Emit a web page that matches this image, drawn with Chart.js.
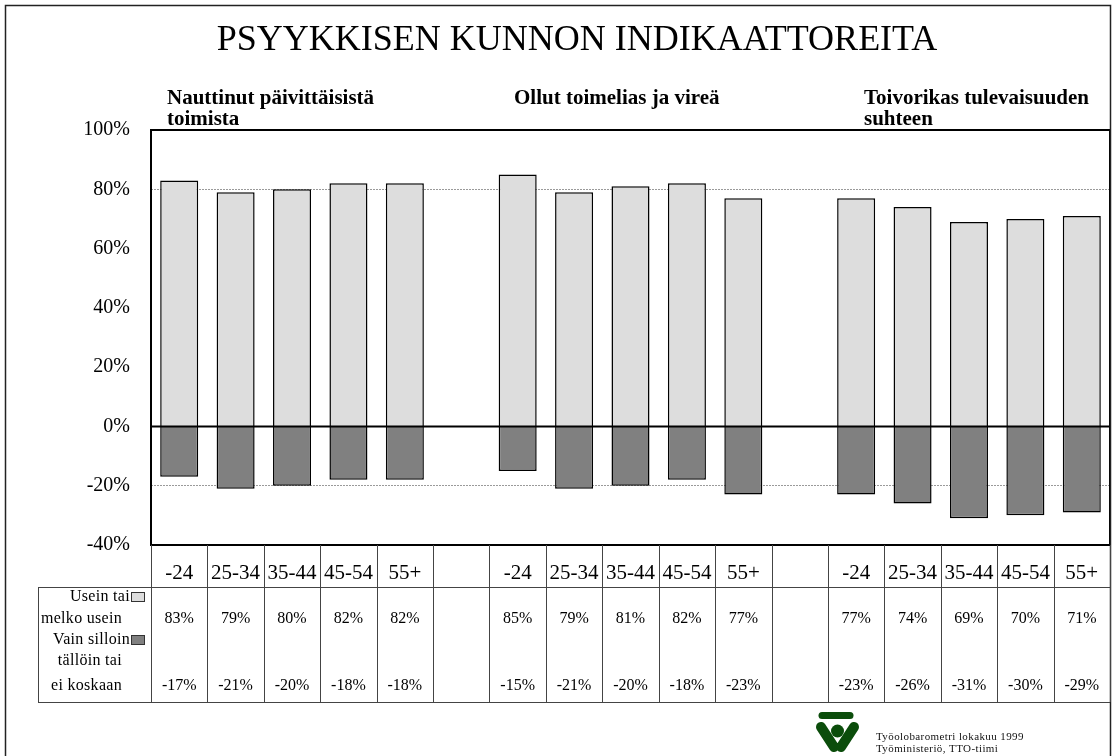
<!DOCTYPE html>
<html>
<head>
<meta charset="utf-8">
<script src="https://cdn.jsdelivr.net/npm/chart.js@4.4.0/dist/chart.umd.min.js"></script>
<style>
  html, body { margin: 0; padding: 0; background: #fff; }
</style>
</head>
<body>
<canvas id="kunto" width="1112" height="756"></canvas>
<script>
const otsikko = "PSYYKKISEN KUNNON INDIKAATTOREITA";
const ryhmat = [
  ["Nauttinut päivittäisistä", "toimista"],
  ["Ollut toimelias ja vireä"],
  ["Toivorikas tulevaisuuden", "suhteen"]
];
const ikaryhmat = ["-24", "25-34", "35-44", "45-54", "55+", "",
                   "-24", "25-34", "35-44", "45-54", "55+", "",
                   "-24", "25-34", "35-44", "45-54", "55+"];
const useinArvot = [83, 79, 80, 82, 82, null, 85, 79, 81, 82, 77, null, 77, 74, 69, 70, 71];
const harvoinArvot = [-17, -21, -20, -18, -18, null, -15, -21, -20, -18, -23, null, -23, -26, -31, -30, -29];
const useinNimi = ["Usein tai", "melko usein"];
const harvoinNimi = ["Vain silloin", "tällöin tai", "ei koskaan"];
const lahde = ["Työolobarometri lokakuu 1999", "Työministeriö, TTO-tiimi"];

const SERIF = "'Liberation Serif', 'Times New Roman', serif";
const vaalea = "#dddddd";
const tumma = "#808080";

// nollaviiva, kuvaalan kehys ja alla oleva arvotaulukko
const taulukko = {
  id: "taulukko",
  afterDatasetsDraw(chart) {
    const { ctx, chartArea: a, scales: { y } } = chart;
    const y0 = y.getPixelForValue(0);
    ctx.save();
    ctx.strokeStyle = "#000";
    ctx.lineWidth = 2;
    ctx.beginPath();
    ctx.moveTo(a.left, y0);
    ctx.lineTo(a.right, y0);
    ctx.stroke();
    ctx.strokeRect(a.left, a.top, a.right - a.left, a.bottom - a.top);
    ctx.restore();
  },
  afterDraw(chart) {
    const { ctx, chartArea: a, scales: { x } } = chart;
    const n = ikaryhmat.length;
    const lev = (a.right - a.left) / n;
    const rivi = 587, ala = 702, vasen = 38;

    ctx.save();
    // ulkokehys
    ctx.strokeStyle = "#222";
    ctx.lineWidth = 1.5;
    ctx.strokeRect(5.5, 5.5, 1105, 800);

    // otsikot
    ctx.fillStyle = "#000";
    ctx.textAlign = "center";
    ctx.textBaseline = "alphabetic";
    ctx.font = `36px ${SERIF}`;
    ctx.fillText(otsikko, 577, 50);

    ctx.textAlign = "left";
    ctx.font = `bold 21px ${SERIF}`;
    const alut = [167, 514, 864];
    ryhmat.forEach((rivit, i) => {
      rivit.forEach((t, j) => ctx.fillText(t, alut[i], 104 + j * 21));
    });

    // taulukon viivat
    ctx.strokeStyle = "#444";
    ctx.lineWidth = 1;
    ctx.beginPath();
    for (let k = 0; k <= n; k++) {
      const xx = Math.round(a.left + k * lev) + 0.5;
      ctx.moveTo(xx, a.bottom);
      ctx.lineTo(xx, ala);
    }
    ctx.moveTo(vasen + 0.5, rivi);
    ctx.lineTo(vasen + 0.5, ala);
    ctx.moveTo(vasen, rivi + 0.5);
    ctx.lineTo(a.right, rivi + 0.5);
    ctx.moveTo(vasen, ala + 0.5);
    ctx.lineTo(a.right, ala + 0.5);
    ctx.stroke();

    // arvot
    ctx.font = `16px ${SERIF}`;
    ctx.textAlign = "center";
    ctx.textBaseline = "middle";
    useinArvot.forEach((v, i) => {
      if (v !== null) ctx.fillText(v + "%", x.getPixelForValue(i), 619);
    });
    harvoinArvot.forEach((v, i) => {
      if (v !== null) ctx.fillText(v + "%", x.getPixelForValue(i), 686);
    });

    // selitteet ja värilaatikot
    ctx.textAlign = "right";
    ctx.letterSpacing = "0.3px";
    const selite = (rivit, ys, vari) => {
      rivit.forEach((t, j) => ctx.fillText(t, j === 0 ? 130 : 122, ys[j]));
      ctx.fillStyle = vari;
      ctx.fillRect(131, ys[0] - 5, 14, 9);
      ctx.strokeStyle = "#333";
      ctx.strokeRect(131.5, ys[0] - 4.5, 13, 9);
      ctx.fillStyle = "#000";
    };
    selite(useinNimi, [597, 619], vaalea);
    selite(harvoinNimi, [640, 661, 686], tumma);

    // logo
    ctx.fillStyle = "#0b4d0b";
    ctx.strokeStyle = "#0b4d0b";
    ctx.lineCap = "round";
    ctx.lineWidth = 7;
    ctx.beginPath();
    ctx.moveTo(822, 715.5);
    ctx.lineTo(850, 715.5);
    ctx.stroke();
    ctx.lineWidth = 10;
    ctx.beginPath();
    ctx.moveTo(821, 727);
    ctx.lineTo(834, 747);
    ctx.moveTo(854, 727);
    ctx.lineTo(841, 747);
    ctx.stroke();
    ctx.beginPath();
    ctx.arc(837.5, 731, 6.5, 0, Math.PI * 2);
    ctx.fill();

    // lähde
    ctx.fillStyle = "#111";
    ctx.textAlign = "left";
    ctx.textBaseline = "alphabetic";
    ctx.font = `11px ${SERIF}`;
    ctx.letterSpacing = "0.4px";
    ctx.fillText(lahde[0], 876, 740);
    ctx.fillText(lahde[1], 876, 752);
    ctx.restore();
  }
};

new Chart(document.getElementById("kunto"), {
  type: "bar",
  data: {
    labels: ikaryhmat,
    datasets: [
      {
        label: useinNimi.join(" "),
        data: useinArvot,
        backgroundColor: vaalea,
        borderColor: "#000",
        borderWidth: 1.5,
        borderSkipped: "start"
      },
      {
        label: harvoinNimi.join(" "),
        data: harvoinArvot,
        backgroundColor: tumma,
        borderColor: "#000",
        borderWidth: 1.5,
        borderSkipped: "start"
      }
    ]
  },
  options: {
    responsive: false,
    animation: false,
    datasets: { bar: { categoryPercentage: 1, barPercentage: 0.674 } },
    layout: { padding: { top: 130, right: 2, left: 0, bottom: 0 } },
    plugins: {
      legend: { display: false },
      tooltip: { enabled: false },
      title: { display: false }
    },
    scales: {
      x: {
        stacked: true,
        grid: { display: false },
        border: { display: false },
        ticks: {
          color: "#000",
          font: { family: SERIF, size: 21 },
          padding: 8,
          autoSkip: false,
          maxRotation: 0,
          minRotation: 0
        },
        afterFit: s => { s.height = 211; }
      },
      y: {
        stacked: true,
        min: -40,
        max: 100,
        ticks: {
          stepSize: 20,
          color: "#000",
          font: { family: SERIF, size: 20 },
          padding: 21,
          callback: v => v + "%"
        },
        grid: {
          drawTicks: false,
          lineWidth: 1,
          color: c => (c.tick && (c.tick.value === 80 || c.tick.value === -20)) ? "#9a9a9a" : "transparent"
        },
        border: { display: false, dash: [2, 1] },
        afterFit: s => { s.width = 151; }
      }
    }
  },
  plugins: [taulukko]
});
</script>
</body>
</html>
